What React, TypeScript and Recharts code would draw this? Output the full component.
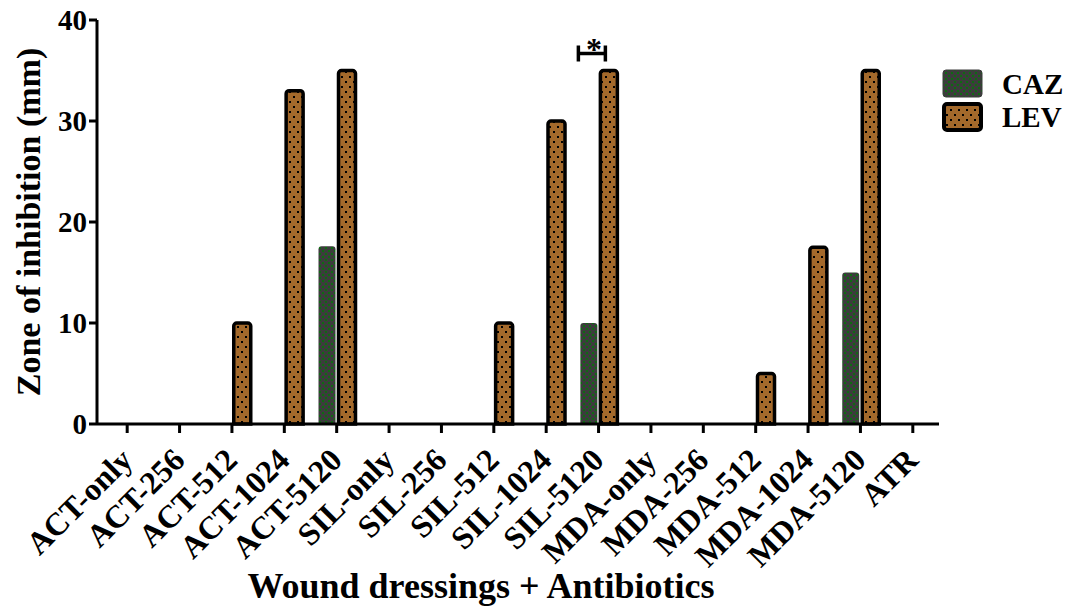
import React from 'react';
import { BarChart, Bar, XAxis, YAxis, LabelList } from 'recharts';

const categories = ['ACT-only','ACT-256','ACT-512','ACT-1024','ACT-5120','SIL-only','SIL-256','SIL-512','SIL-1024','SIL-5120','MDA-only','MDA-256','MDA-512','MDA-1024','MDA-5120','ATR'];
const cazValues = [0,0,0,0,17.6,0,0,0,0,10,0,0,0,0,15,0];
const levValues = [0,0,10,33,35,0,0,10,30,35,0,0,5,17.5,35,0];
const sigMarks = ['','','','','','','','','','*','','','','','',''];
const yTicks = [0,10,20,30,40];
const seriesNames = ['CAZ', 'LEV'];

const data = categories.map((c, i) => ({ name: c, CAZ: cazValues[i], LEV: levValues[i], sig: sigMarks[i] }));

const FONT = '"Liberation Serif", "Times New Roman", serif';

const XTick = (props: any) => {
  const { x, y, payload } = props;
  return (
    <g transform={`translate(${x},${y})`}>
      <text x={-14} y={24} textAnchor="end" transform="rotate(-45)" fontFamily={FONT} fontWeight="bold" fontSize={32} fill="#000">
        {payload.value}
      </text>
    </g>
  );
};

const XTitle = (props: any) => {
  const { viewBox } = props;
  const cx = viewBox.x + viewBox.width / 2 - 37;
  return (
    <text x={cx} y={598} textAnchor="middle" fontFamily={FONT} fontWeight="bold" fontSize={36} fill="#000">
      Wound dressings + Antibiotics
    </text>
  );
};

const SigLabel = (props: any) => {
  const { x, y, value } = props;
  if (!value) return null;
  const left = x - 22;
  const right = x + 5;
  const hy = y - 17;
  return (
    <g>
      <line x1={left} x2={left} y1={hy - 8} y2={hy + 8} stroke="#000" strokeWidth={3.5} />
      <line x1={right} x2={right} y1={hy - 8} y2={hy + 8} stroke="#000" strokeWidth={3.5} />
      <line x1={left} x2={right} y1={hy} y2={hy} stroke="#000" strokeWidth={3.5} />
      <text x={(left + right) / 2 + 2} y={hy + 6} textAnchor="middle" fontFamily={FONT} fontWeight="bold" fontSize={32} fill="#000">{value}</text>
    </g>
  );
};

const LegendBox = () => (
  <svg width={129} height={70} style={{ position: 'absolute', left: 941, top: 68 }}>
    <rect x={2} y={2} width={39} height={27} rx={3} fill="url(#cazPatL)" stroke="#3c3c3c" strokeWidth={1} />
    <text x={61} y={26} fontFamily={FONT} fontWeight="bold" fontSize={29} fill="#000">{seriesNames[0]}</text>
    <rect x={3} y={36} width={37} height={26} rx={3} fill="url(#levPatL)" stroke="#000" strokeWidth={4} />
    <text x={61} y={59} fontFamily={FONT} fontWeight="bold" fontSize={29} fill="#000">{seriesNames[1]}</text>
    <defs>
      <pattern id="cazPatL" width="6" height="6" patternUnits="userSpaceOnUse">
        <rect width="6" height="6" fill="#3c3c3c" />
        <rect x="1" y="1" width="2" height="2" fill="#0e6b12" />
        <rect x="4" y="4" width="2" height="2" fill="#0e6b12" />
      </pattern>
      <pattern id="levPatL" width="8" height="10" patternUnits="userSpaceOnUse">
        <rect width="8" height="10" fill="#a3692b" />
        <rect x="1" y="1" width="2" height="2" fill="#000" />
        <rect x="5" y="6" width="2" height="2" fill="#000" />
      </pattern>
    </defs>
  </svg>
);

export default function App() {
  return (
    <div style={{ position: 'absolute', left: 0, top: 0, width: 1072, height: 607, background: '#fff' }}>
      <BarChart width={1072} height={607} data={data} margin={{ top: 20, right: 133, left: 0, bottom: 0 }} barSize={17} barGap={3}>
        <defs>
          <pattern id="cazPat" width="6" height="6" patternUnits="userSpaceOnUse">
            <rect width="6" height="6" fill="#3c3c3c" />
            <rect x="1" y="1" width="2" height="2" fill="#0e6b12" />
            <rect x="4" y="4" width="2" height="2" fill="#0e6b12" />
          </pattern>
          <pattern id="levPat" width="8" height="10" patternUnits="userSpaceOnUse">
            <rect width="8" height="10" fill="#a3692b" />
            <rect x="1" y="1" width="2" height="2" fill="#000" />
            <rect x="5" y="6" width="2" height="2" fill="#000" />
          </pattern>
        </defs>
        <XAxis
          dataKey="name"
          height={183}
          interval={0}
          padding={{ left: 4, right: 0 }}
          tick={<XTick />}
          axisLine={{ stroke: '#000', strokeWidth: 3 }}
          tickLine={{ stroke: '#000', strokeWidth: 3 }}
          tickSize={9}
          label={<XTitle />}
        />
        <YAxis
          domain={[0, 40]}
          ticks={yTicks}
          width={97}
          axisLine={{ stroke: '#000', strokeWidth: 3 }}
          tickLine={{ stroke: '#000', strokeWidth: 3 }}
          tickSize={8}
          tick={{ fontFamily: FONT, fontWeight: 'bold', fontSize: 29, fill: '#000' }}
          label={{ value: 'Zone of inhibition (mm)', angle: -90, position: 'insideLeft', offset: 28, style: { textAnchor: 'middle' }, fontFamily: FONT, fontWeight: 'bold', fontSize: 34, fill: '#000' }}
        />
        <Bar dataKey="CAZ" fill="url(#cazPat)" radius={[3, 3, 0, 0]} isAnimationActive={false} />
        <Bar dataKey="LEV" fill="url(#levPat)" stroke="#000" strokeWidth={3.5} radius={[3, 3, 0, 0]} isAnimationActive={false}>
          <LabelList dataKey="sig" content={<SigLabel />} />
        </Bar>
      </BarChart>
      <LegendBox />
    </div>
  );
}
